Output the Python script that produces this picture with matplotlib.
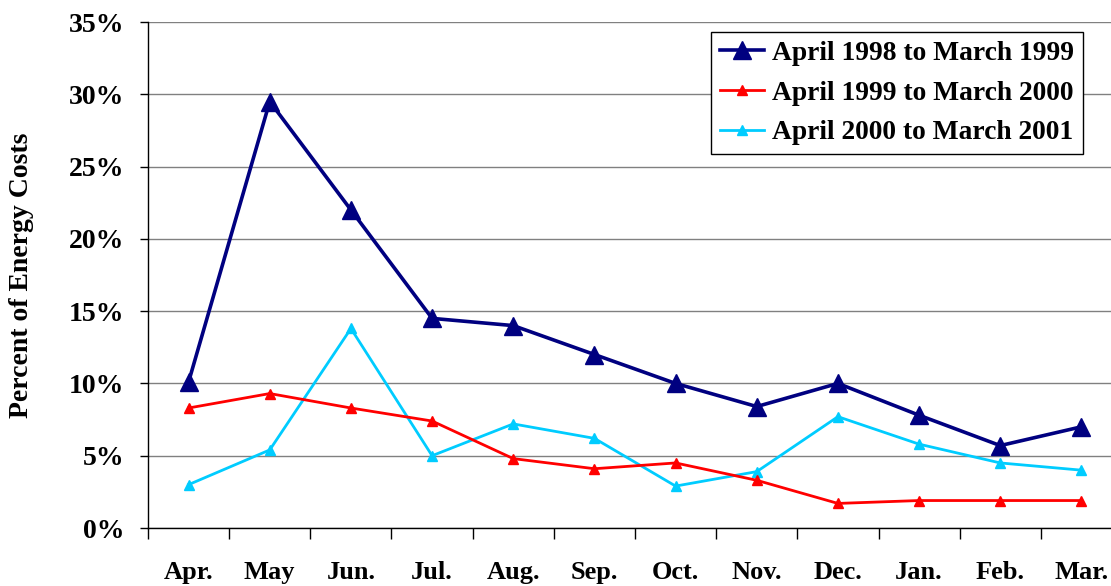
import matplotlib
matplotlib.use("Agg")
import matplotlib.pyplot as plt
from matplotlib.ticker import FuncFormatter

months = ["Apr.", "May", "Jun.", "Jul.", "Aug.", "Sep.", "Oct.", "Nov.", "Dec.", "Jan.", "Feb.", "Mar."]
label_9899 = "April 1998 to March 1999"
label_9900 = "April 1999 to March 2000"
label_0001 = "April 2000 to March 2001"
pct_9899 = [10.1, 29.5, 22.0, 14.5, 14.0, 12.0, 10.0, 8.4, 10.0, 7.8, 5.7, 7.0]
pct_9900 = [8.3, 9.3, 8.3, 7.4, 4.8, 4.1, 4.5, 3.3, 1.7, 1.9, 1.9, 1.9]
pct_0001 = [3.0, 5.4, 13.8, 5.0, 7.2, 6.2, 2.9, 3.9, 7.7, 5.8, 4.5, 4.0]
y_ticks = [0, 5, 10, 15, 20, 25, 30, 35]

plt.rcParams["font.family"] = ["Liberation Serif", "DejaVu Serif"]
plt.rcParams["font.weight"] = "bold"

W, H = 1111, 586
fig = plt.figure(figsize=(W / 100, H / 100), dpi=100)
ax = fig.add_axes([148 / W, 58 / H, 974 / W, 506 / H])

x = list(range(len(months)))
ax.plot(x, pct_9899, color="#000080", linewidth=2.6, marker="^", markersize=12.5,
        label=label_9899, zorder=5, clip_on=False)
ax.plot(x, pct_9900, color="#FF0000", linewidth=2.0, marker="^", markersize=7.5,
        label=label_9900, zorder=4, clip_on=False)
ax.plot(x, pct_0001, color="#00CCFF", linewidth=2.0, marker="^", markersize=7.5,
        label=label_0001, zorder=3, clip_on=False)

ax.set_xlim(-0.5, len(months) - 0.5)
ax.set_ylim(0, 35)
ax.set_yticks(y_ticks)
ax.yaxis.set_major_formatter(FuncFormatter(lambda v, _: f"{v:.0f}%"))
ax.set_xticks(x)
ax.set_xticklabels(months)
ax.set_xticks([i + 0.5 for i in x[:-1]] + [-0.5], minor=True)

ax.tick_params(axis="x", which="major", length=0, pad=24, labelsize=19)
ax.tick_params(axis="x", which="minor", length=8, width=1, direction="out")
ax.tick_params(axis="y", length=6, width=1, direction="out", pad=11, labelsize=20)
for lab in ax.get_xticklabels() + ax.get_yticklabels():
    lab.set_fontweight("bold")

ax.grid(True, axis="y", color="#808080", linewidth=1.0)
ax.set_axisbelow(True)
for side in ["top", "right"]:
    ax.spines[side].set_visible(False)
ax.spines["left"].set_linewidth(1.0)
ax.spines["bottom"].set_linewidth(1.0)

ax.set_ylabel("Percent of Energy Costs", fontsize=20, fontweight="bold")
ax.yaxis.set_label_coords(-0.117, 0.5)

leg = ax.legend(loc="upper right", bbox_to_anchor=(1083 / W, 1 - 32 / H),
                bbox_transform=fig.transFigure, fontsize=19.8, frameon=True,
                fancybox=False, edgecolor="black", framealpha=1,
                handlelength=1.6, handletextpad=0.3, labelspacing=0.52,
                borderpad=0.32, borderaxespad=0)
leg.get_frame().set_linewidth(1.0)
for t in leg.get_texts():
    t.set_fontweight("bold")

fig.savefig("out.png", dpi=100)
